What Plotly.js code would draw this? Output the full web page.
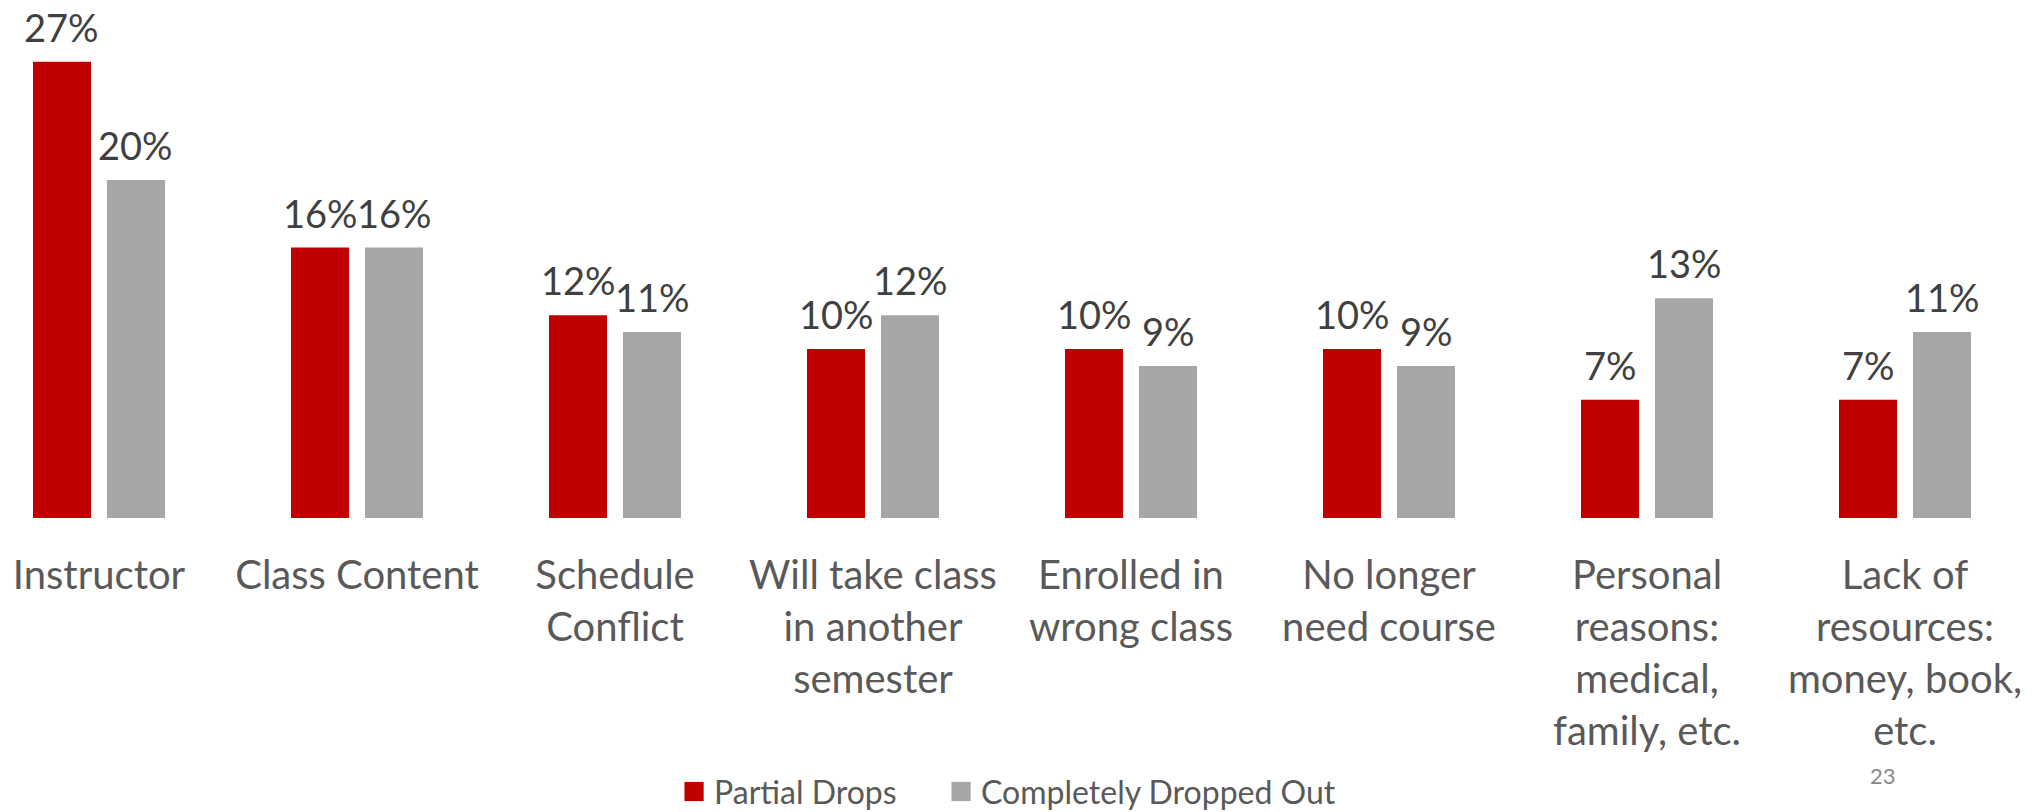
<!DOCTYPE html>
<html>
<head>
<meta charset="utf-8">
<script src="https://cdn.plot.ly/plotly-3.0.1.min.js"></script>
<style>
  html, body { margin: 0; padding: 0; background: #ffffff; }
  #chart { width: 2034px; height: 812px; }
</style>
</head>
<body>
<div id="chart"></div>
<script>
const categories = [
  "Instructor",
  "Class Content",
  "Schedule<br>Conflict",
  "Will take class<br>in another<br>semester",
  "Enrolled in<br>wrong class",
  "No longer<br>need course",
  "Personal<br>reasons:<br>medical,<br>family, etc.",
  "Lack of<br>resources:<br>money, book,<br>etc."
];
const partialDrops = [27, 16, 12, 10, 10, 10, 7, 7];
const completelyDroppedOut = [20, 16, 11, 12, 9, 9, 13, 11];
const seriesNames = ["Partial Drops", "Completely Dropped Out"];
const seriesColors = ["#C00000", "#A6A6A6"];
const pageNumber = "23";

const FONT = "Lato, 'Open Sans', sans-serif";
const LABEL_FONT = { family: FONT, size: 38, color: "#404040" };

const traces = [partialDrops, completelyDroppedOut].map((vals, s) => ({
  type: "bar",
  name: seriesNames[s],
  x: categories,
  y: vals,
  marker: { color: seriesColors[s] },
  hoverinfo: "skip"
}));

// value labels placed above each bar
const labelAnnotations = [];
[partialDrops, completelyDroppedOut].forEach((vals, s) => {
  vals.forEach((v, i) => {
    labelAnnotations.push({
      x: categories[i],
      y: v,
      xref: "x",
      yref: "y",
      xshift: s === 0 ? -37 : 37,
      yshift: 10,
      text: v + "%",
      showarrow: false,
      xanchor: "center",
      yanchor: "bottom",
      font: LABEL_FONT
    });
  });
});

const layout = {
  width: 2034,
  height: 812,
  margin: { l: 0, r: 0, t: 0, b: 294, pad: 0 },
  paper_bgcolor: "#ffffff",
  plot_bgcolor: "#ffffff",
  barmode: "group",
  bargap: 0.4264,
  bargroupgap: 0.2162,
  font: { family: FONT, color: "#595959" },
  xaxis: {
    type: "category",
    range: [-0.3837, 7.5],
    showgrid: false,
    zeroline: false,
    showline: false,
    ticks: "",
    tickangle: 0,
    ticklabelstandoff: 30,
    tickfont: { family: FONT, size: 40, color: "#595959" },
    fixedrange: true
  },
  yaxis: {
    range: [0, 30.65],
    showgrid: false,
    zeroline: false,
    showline: false,
    showticklabels: false,
    ticks: "",
    fixedrange: true
  },
  showlegend: true,
  legend: {
    orientation: "h",
    xref: "container",
    yref: "container",
    x: 0.3314,
    xanchor: "left",
    y: 0.025,
    yanchor: "middle",
    entrywidthmode: "pixels",
    entrywidth: 222,
    font: { family: FONT, size: 32, color: "#595959" },
    bgcolor: "rgba(0,0,0,0)"
  },
  annotations: labelAnnotations.concat([
    {
      text: pageNumber,
      xref: "paper",
      yref: "paper",
      x: 0.9258,
      y: -0.498,
      xanchor: "center",
      yanchor: "middle",
      showarrow: false,
      font: { family: FONT, size: 22, color: "#898989" }
    }
  ])
};

Plotly.newPlot("chart", traces, layout, { displayModeBar: false, staticPlot: true }).then(() => {
  // enlarge the square legend swatches to match the reference
  document.querySelectorAll("#chart .legendpoints path").forEach(p => {
    const t = p.getAttribute("transform") || "";
    p.setAttribute("transform", t + " scale(1.6)");
  });
  // let the last legend entry's text run past the fixed entry width
  document.querySelectorAll("#chart .legend .scrollbox, #chart .legend [clip-path]").forEach(g => {
    g.removeAttribute("clip-path");
  });
});
</script>
</body>
</html>
